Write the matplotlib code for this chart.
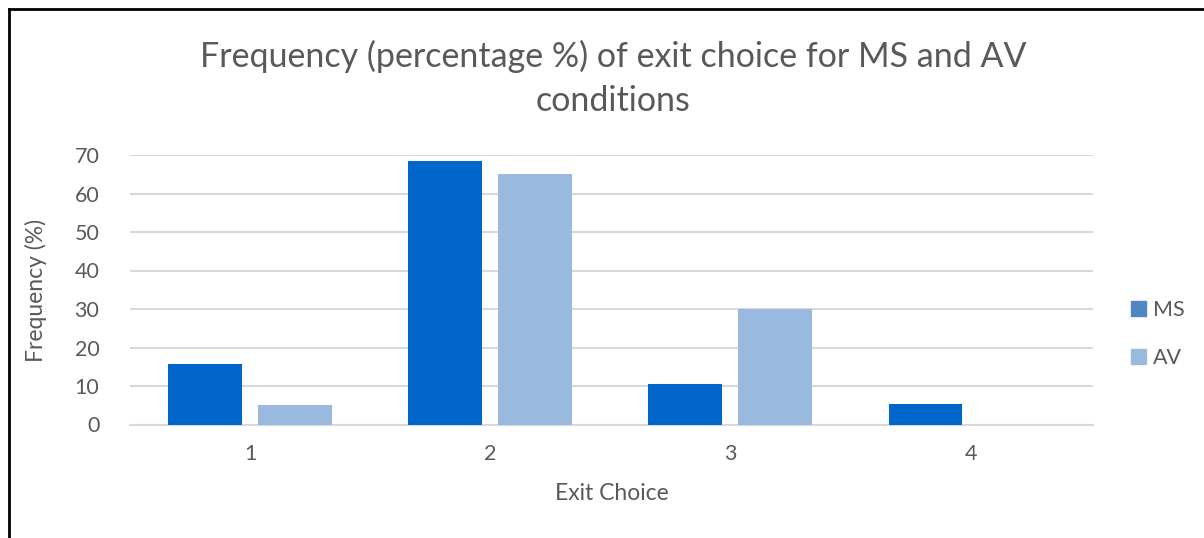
import numpy as np
import matplotlib.pyplot as plt
from matplotlib.lines import Line2D
from matplotlib.patches import Patch

# data
categories = ['1', '2', '3', '4']
ms_values = [15.8, 68.5, 10.5, 5.3]
av_values = [5.0, 65.0, 30.0, 0.0]
y_ticks = [0, 10, 20, 30, 40, 50, 60, 70]

plt.rcParams['font.family'] = ['Lato', 'DejaVu Sans']
text_color = '#595959'
ms_color = '#0066CC'
av_color = '#99B9DF'

fig = plt.figure(figsize=(12.04, 5.38), dpi=100)
ax = fig.add_axes([130 / 1204, 1 - 424.5 / 538, 963 / 1204, 269.5 / 538])

x = np.arange(len(categories))
w = 0.308
ax.bar(x - 0.1875, ms_values, width=w, color=ms_color, zorder=3)
ax.bar(x + 0.1875, av_values, width=w, color=av_color, zorder=3)

ax.set_xlim(-0.5, 3.51)
ax.set_ylim(0, 70)
ax.set_yticks(y_ticks)
ax.set_xticks(x)
ax.set_xticklabels(categories)
ax.yaxis.grid(True, color='#D9D9D9', linewidth=1.5, zorder=0)
ax.set_axisbelow(True)
for s in ['top', 'right', 'left']:
    ax.spines[s].set_visible(False)
ax.spines['bottom'].set_color('#D9D9D9')
ax.spines['bottom'].set_linewidth(1.5)
ax.tick_params(axis='both', length=0, labelsize=15.5, colors=text_color)
ax.tick_params(axis='y', pad=22)
ax.tick_params(axis='x', pad=14)

fig.text(0.509, 0.895, 'Frequency (percentage %) of exit choice for MS and AV',
         ha='center', va='center', fontsize=24.5, color=text_color)
fig.text(0.509, 0.813, 'conditions', ha='center', va='center', fontsize=24.5, color=text_color)
fig.text(612 / 1204, 1 - 494 / 538, 'Exit Choice', ha='center', va='center', fontsize=16.5, color=text_color)
fig.text(36 / 1204, 1 - 290 / 538, 'Frequency (%)', ha='center', va='center', rotation=90,
         fontsize=16.5, color=text_color)

handles = [Patch(color='#4F87C2', label='MS'), Patch(color=av_color, label='AV')]
fig.legend(handles=handles, loc='center left', bbox_to_anchor=(1112 / 1204, 1 - 334 / 538),
           frameon=False, fontsize=15.5, handlelength=0.7, handleheight=0.7, handletextpad=0.3,
           labelspacing=1.3, labelcolor=text_color)

# outer frame (top and left edges visible)
fig.add_artist(Line2D([9 / 1204, 1.0], [1 - 9 / 538, 1 - 9 / 538], color='black', lw=2))
fig.add_artist(Line2D([9 / 1204, 9 / 1204], [0, 1 - 9 / 538], color='black', lw=2))

fig.savefig('out.png', dpi=100)
